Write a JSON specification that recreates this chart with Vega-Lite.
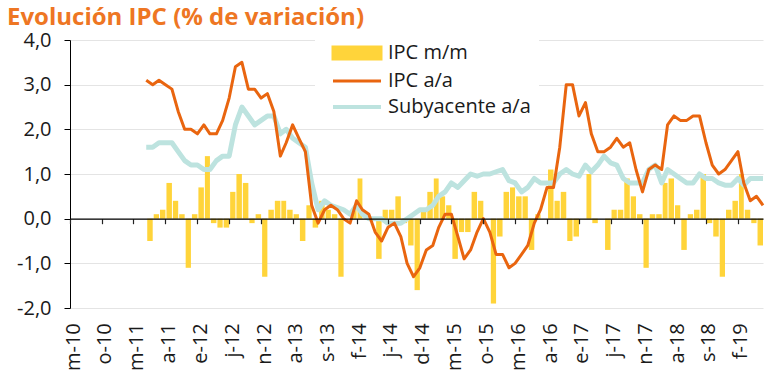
{
  "$schema": "https://vega.github.io/schema/vega-lite/v6.json",
  "width": 693,
  "height": 268,
  "autosize": {"type": "none"},
  "padding": {"left": 70, "top": 40, "right": 8, "bottom": 73},
  "background": "white",
  "title": {"text": "Evolución IPC (% de variación)", "anchor": "start", "frame": "group", "font": "Open Sans", "fontSize": 24, "fontWeight": "bold", "color": "#EE7623", "dx": -63, "dy": 34, "offset": 15, "baseline": "alphabetic"},
  "config": {"view": {"stroke": null}, "font": "Open Sans"},
  "data": {"values": [
    {"fecha":"2011-05","mm":-0.5,"aa":3.1,"sub":1.6},
    {"fecha":"2011-06","mm":0.1,"aa":3.0,"sub":1.6},
    {"fecha":"2011-07","mm":0.2,"aa":3.1,"sub":1.7},
    {"fecha":"2011-08","mm":0.8,"aa":3.0,"sub":1.7},
    {"fecha":"2011-09","mm":0.4,"aa":2.9,"sub":1.7},
    {"fecha":"2011-10","mm":0.1,"aa":2.4,"sub":1.5},
    {"fecha":"2011-11","mm":-1.1,"aa":2.0,"sub":1.3},
    {"fecha":"2011-12","mm":0.1,"aa":2.0,"sub":1.2},
    {"fecha":"2012-01","mm":0.7,"aa":1.9,"sub":1.2},
    {"fecha":"2012-02","mm":1.4,"aa":2.1,"sub":1.1},
    {"fecha":"2012-03","mm":-0.1,"aa":1.9,"sub":1.1},
    {"fecha":"2012-04","mm":-0.2,"aa":1.9,"sub":1.3},
    {"fecha":"2012-05","mm":-0.2,"aa":2.2,"sub":1.4},
    {"fecha":"2012-06","mm":0.6,"aa":2.7,"sub":1.4},
    {"fecha":"2012-07","mm":1.0,"aa":3.4,"sub":2.1},
    {"fecha":"2012-08","mm":0.8,"aa":3.5,"sub":2.5},
    {"fecha":"2012-09","mm":-0.1,"aa":2.9,"sub":2.3},
    {"fecha":"2012-10","mm":0.1,"aa":2.9,"sub":2.1},
    {"fecha":"2012-11","mm":-1.3,"aa":2.7,"sub":2.2},
    {"fecha":"2012-12","mm":0.2,"aa":2.8,"sub":2.3},
    {"fecha":"2013-01","mm":0.4,"aa":2.4,"sub":2.3},
    {"fecha":"2013-02","mm":0.4,"aa":1.4,"sub":1.9},
    {"fecha":"2013-03","mm":0.2,"aa":1.7,"sub":2.0},
    {"fecha":"2013-04","mm":0.1,"aa":2.1,"sub":1.8},
    {"fecha":"2013-05","mm":-0.5,"aa":1.8,"sub":1.7},
    {"fecha":"2013-06","mm":0.3,"aa":1.5,"sub":1.6},
    {"fecha":"2013-07","mm":-0.2,"aa":0.3,"sub":0.8},
    {"fecha":"2013-08","mm":0.4,"aa":-0.1,"sub":0.2},
    {"fecha":"2013-09","mm":0.2,"aa":0.2,"sub":0.4},
    {"fecha":"2013-10","mm":0.1,"aa":0.3,"sub":0.3},
    {"fecha":"2013-11","mm":-1.3,"aa":0.2,"sub":0.25},
    {"fecha":"2013-12","mm":0.0,"aa":0.0,"sub":0.2},
    {"fecha":"2014-01","mm":0.2,"aa":-0.1,"sub":0.1},
    {"fecha":"2014-02","mm":0.9,"aa":0.4,"sub":0.3},
    {"fecha":"2014-03","mm":0.0,"aa":0.2,"sub":0.1},
    {"fecha":"2014-04","mm":0.0,"aa":0.1,"sub":0.0},
    {"fecha":"2014-05","mm":-0.9,"aa":-0.3,"sub":0.0},
    {"fecha":"2014-06","mm":0.2,"aa":-0.5,"sub":0.0},
    {"fecha":"2014-07","mm":0.2,"aa":-0.2,"sub":-0.1},
    {"fecha":"2014-08","mm":0.5,"aa":-0.1,"sub":-0.1},
    {"fecha":"2014-09","mm":-0.1,"aa":-0.4,"sub":-0.1},
    {"fecha":"2014-10","mm":-0.6,"aa":-1.0,"sub":0.0},
    {"fecha":"2014-11","mm":-1.6,"aa":-1.3,"sub":0.1},
    {"fecha":"2014-12","mm":0.2,"aa":-1.1,"sub":0.2},
    {"fecha":"2015-01","mm":0.6,"aa":-0.7,"sub":0.2},
    {"fecha":"2015-02","mm":0.9,"aa":-0.6,"sub":0.3},
    {"fecha":"2015-03","mm":0.5,"aa":-0.2,"sub":0.5},
    {"fecha":"2015-04","mm":0.3,"aa":0.1,"sub":0.6},
    {"fecha":"2015-05","mm":-0.9,"aa":0.1,"sub":0.8},
    {"fecha":"2015-06","mm":-0.3,"aa":-0.4,"sub":0.7},
    {"fecha":"2015-07","mm":-0.3,"aa":-0.9,"sub":0.85},
    {"fecha":"2015-08","mm":0.6,"aa":-0.7,"sub":1.0},
    {"fecha":"2015-09","mm":0.4,"aa":-0.3,"sub":0.95},
    {"fecha":"2015-10","mm":0.0,"aa":0.0,"sub":1.0},
    {"fecha":"2015-11","mm":-1.9,"aa":-0.3,"sub":1.0},
    {"fecha":"2015-12","mm":-0.4,"aa":-0.8,"sub":1.05},
    {"fecha":"2016-01","mm":0.6,"aa":-0.8,"sub":1.1},
    {"fecha":"2016-02","mm":0.7,"aa":-1.1,"sub":0.85},
    {"fecha":"2016-03","mm":0.5,"aa":-1.0,"sub":0.8},
    {"fecha":"2016-04","mm":0.5,"aa":-0.8,"sub":0.6},
    {"fecha":"2016-05","mm":-0.7,"aa":-0.6,"sub":0.7},
    {"fecha":"2016-06","mm":0.1,"aa":-0.1,"sub":0.9},
    {"fecha":"2016-07","mm":0.0,"aa":0.2,"sub":0.8},
    {"fecha":"2016-08","mm":1.1,"aa":0.7,"sub":0.8},
    {"fecha":"2016-09","mm":0.4,"aa":0.7,"sub":0.8},
    {"fecha":"2016-10","mm":0.6,"aa":1.6,"sub":1.0},
    {"fecha":"2016-11","mm":-0.5,"aa":3.0,"sub":1.1},
    {"fecha":"2016-12","mm":-0.4,"aa":3.0,"sub":1.0},
    {"fecha":"2017-01","mm":0.0,"aa":2.3,"sub":0.95},
    {"fecha":"2017-02","mm":1.0,"aa":2.6,"sub":1.2},
    {"fecha":"2017-03","mm":-0.1,"aa":1.9,"sub":1.05},
    {"fecha":"2017-04","mm":0.0,"aa":1.5,"sub":1.2},
    {"fecha":"2017-05","mm":-0.7,"aa":1.5,"sub":1.4},
    {"fecha":"2017-06","mm":0.2,"aa":1.6,"sub":1.25},
    {"fecha":"2017-07","mm":0.2,"aa":1.8,"sub":1.2},
    {"fecha":"2017-08","mm":0.9,"aa":1.6,"sub":0.9},
    {"fecha":"2017-09","mm":0.5,"aa":1.7,"sub":0.8},
    {"fecha":"2017-10","mm":0.1,"aa":1.1,"sub":0.8},
    {"fecha":"2017-11","mm":-1.1,"aa":0.6,"sub":0.8},
    {"fecha":"2017-12","mm":0.1,"aa":1.1,"sub":1.1},
    {"fecha":"2018-01","mm":0.1,"aa":1.2,"sub":1.2},
    {"fecha":"2018-02","mm":0.8,"aa":1.1,"sub":0.8},
    {"fecha":"2018-03","mm":0.9,"aa":2.1,"sub":1.1},
    {"fecha":"2018-04","mm":0.3,"aa":2.3,"sub":1.0},
    {"fecha":"2018-05","mm":-0.7,"aa":2.2,"sub":0.9},
    {"fecha":"2018-06","mm":0.1,"aa":2.2,"sub":0.8},
    {"fecha":"2018-07","mm":0.2,"aa":2.3,"sub":0.8},
    {"fecha":"2018-08","mm":1.0,"aa":2.3,"sub":1.0},
    {"fecha":"2018-09","mm":-0.1,"aa":1.7,"sub":0.9},
    {"fecha":"2018-10","mm":-0.4,"aa":1.2,"sub":0.9},
    {"fecha":"2018-11","mm":-1.3,"aa":1.0,"sub":0.8},
    {"fecha":"2018-12","mm":0.2,"aa":1.1,"sub":0.75},
    {"fecha":"2019-01","mm":0.4,"aa":1.3,"sub":0.75},
    {"fecha":"2019-02","mm":1.0,"aa":1.5,"sub":0.9},
    {"fecha":"2019-03","mm":0.2,"aa":0.8,"sub":0.75},
    {"fecha":"2019-04","mm":-0.1,"aa":0.4,"sub":0.9},
    {"fecha":"2019-05","mm":-0.6,"aa":0.5,"sub":0.9},
    {"fecha":"2019-06","mm":0.0,"aa":0.3,"sub":0.9}
  ]},
  "layer": [
    {
      "mark": {"type": "bar", "timeUnitBandSize": 0.68},
      "encoding": {
        "x": {
          "field": "fecha", "timeUnit": "utcyearmonth", "type": "temporal",
          "scale": {"domain": [{"year": 2010, "month": 5, "date": 1, "utc": true}, {"year": 2019, "month": 6, "date": 1, "utc": true}]},
          "axis": {
            "title": null,
            "tickCount": 40,
            "values": [
              {"year": 2010, "month": 5, "date": 1, "utc": true},
              {"year": 2010, "month": 10, "date": 1, "utc": true},
              {"year": 2011, "month": 3, "date": 1, "utc": true},
              {"year": 2011, "month": 8, "date": 1, "utc": true},
              {"year": 2012, "month": 1, "date": 1, "utc": true},
              {"year": 2012, "month": 6, "date": 1, "utc": true},
              {"year": 2012, "month": 11, "date": 1, "utc": true},
              {"year": 2013, "month": 4, "date": 1, "utc": true},
              {"year": 2013, "month": 9, "date": 1, "utc": true},
              {"year": 2014, "month": 2, "date": 1, "utc": true},
              {"year": 2014, "month": 7, "date": 1, "utc": true},
              {"year": 2014, "month": 12, "date": 1, "utc": true},
              {"year": 2015, "month": 5, "date": 1, "utc": true},
              {"year": 2015, "month": 10, "date": 1, "utc": true},
              {"year": 2016, "month": 3, "date": 1, "utc": true},
              {"year": 2016, "month": 8, "date": 1, "utc": true},
              {"year": 2017, "month": 1, "date": 1, "utc": true},
              {"year": 2017, "month": 6, "date": 1, "utc": true},
              {"year": 2017, "month": 11, "date": 1, "utc": true},
              {"year": 2018, "month": 4, "date": 1, "utc": true},
              {"year": 2018, "month": 9, "date": 1, "utc": true},
              {"year": 2019, "month": 2, "date": 1, "utc": true}
            ],
            "labelExpr": "['e','f','m','a','m','j','j','a','s','o','n','d'][utcmonth(datum.value)] + '-' + utcFormat(datum.value, '%y')",
            "offset": -89.3,
            "domainColor": "#000000",
            "domainWidth": 1.2,
            "tickColor": "#222222",
            "tickSize": 5,
            "tickWidth": 1.2,
            "labelAngle": -90,
            "labelPadding": 99,
            "labelFontSize": 20,
            "labelFont": "Open Sans",
            "labelColor": "#1a1a1a",
            "labelOffset": 3,
            "labelOverlap": false,
            "labelSeparation": 0,
            "labelBound": false,
            "labelFlush": false,
            "grid": false,
            "zindex": 1
          }
        },
        "y": {
          "field": "mm", "type": "quantitative",
          "scale": {"domain": [-2, 4], "nice": false},
          "axis": {
            "title": null,
            "values": [-2, -1, 0, 1, 2, 3, 4],
            "labelExpr": "(datum.value < 0 ? '-' : '') + replace(format(abs(datum.value), '.1f'), '.', ',')",
            "grid": true,
            "gridColor": "#E4E4E4",
            "gridWidth": 1,
            "domainColor": "#000000",
            "tickColor": "#000000",
            "tickSize": 6,
            "labelFontSize": 20,
            "labelFont": "Open Sans",
            "labelColor": "#1a1a1a",
            "labelPadding": 13,
            "labelFlush": false
          }
        },
        "color": {
          "datum": "IPC m/m", "type": "nominal",
          "scale": {"domain": ["IPC m/m", "IPC a/a", "Subyacente a/a"], "range": ["#FFD43A", "#E9650F", "#BDE3DF"]},
          "legend": {
            "title": null,
            "orient": "none",
            "legendX": 245,
            "legendY": -5,
            "fillColor": "white",
            "padding": 8,
            "labelFontSize": 20,
            "labelFont": "Open Sans",
            "labelColor": "#1a1a1a",
            "symbolSize": 144,
            "symbolStrokeWidth": 3,
            "rowPadding": 6,
            "labelOffset": 45,
            "encode": {
              "symbols": {
                "update": {
                  "shape": {"signal": "datum.value === 'IPC m/m' ? 'M0,-1H8V1H0Z' : 'M0,0H8'"},
                  "fill": {"signal": "datum.value === 'IPC m/m' ? '#FFD43A' : 'transparent'"},
                  "stroke": {"signal": "datum.value === 'IPC a/a' ? '#E9650F' : (datum.value === 'IPC m/m' ? 'transparent' : '#BDE3DF')"},
                  "strokeWidth": {"signal": "datum.value === 'Subyacente a/a' ? 4 : 3"},
                  "opacity": {"value": 1}
                }
              }
            }
          }
        }
      }
    },
    {
      "mark": {"type": "line", "strokeWidth": 5, "strokeJoin": "round", "timeUnitBandPosition": 0.5},
      "encoding": {
        "x": {"field": "fecha", "timeUnit": "utcyearmonth", "type": "temporal"},
        "y": {"field": "sub", "type": "quantitative"},
        "color": {"datum": "Subyacente a/a", "type": "nominal"}
      }
    },
    {
      "mark": {"type": "line", "strokeWidth": 3, "strokeJoin": "round", "timeUnitBandPosition": 0.5},
      "encoding": {
        "x": {"field": "fecha", "timeUnit": "utcyearmonth", "type": "temporal"},
        "y": {"field": "aa", "type": "quantitative"},
        "color": {"datum": "IPC a/a", "type": "nominal"}
      }
    }
  ]
}
